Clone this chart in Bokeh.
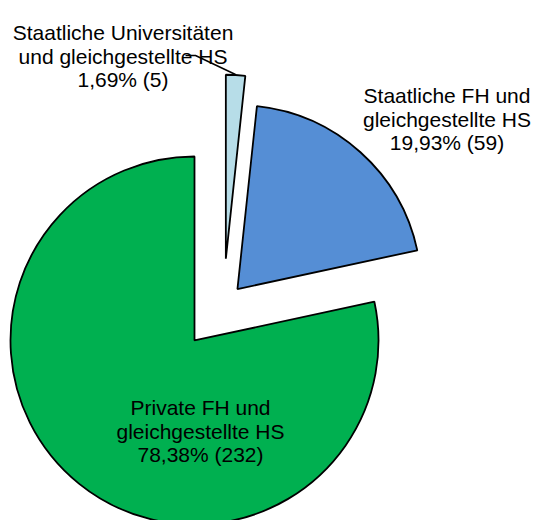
import math
from bokeh.plotting import figure
from bokeh.models import Range1d, ColumnDataSource
from bokeh.core.properties import value
from bokeh.embed import file_html
from bokeh.resources import INLINE

# ---- data ----
categories = ["Staatliche Universitäten\nund gleichgestellte HS",
              "Staatliche FH und\ngleichgestellte HS",
              "Private FH und\ngleichgestellte HS"]
counts = [5, 59, 232]
colors = ["#B7DDE8", "#558ED5", "#00B050"]

# ---- layout / style (reference pixel space, y measured from top) ----
W, H = 534, 520
REF_H = 520
center = (222.9, 304.2)
radius = 184
explode = [46, 21, 46]
label_anchor = [(122.5, 32), (446.5, 95), (200, 407)]
line_gap = 23.7
leader = [(185, 55), (195, 55), (235, 74)]
FONT = "Liberation Sans"
FSIZE = "21px"

p = figure(width=W, height=H, output_backend="svg", toolbar_location=None,
           x_range=Range1d(0, W), y_range=Range1d(REF_H - H, REF_H),
           min_border=0, outline_line_color=None)
p.axis.visible = False
p.grid.visible = False
p.background_fill_color = "white"
p.border_fill_color = "white"

total = sum(counts)
cx, cy = center[0], REF_H - center[1]
cum = 0
xs, ys, starts, ends = [], [], [], []
for v, d in zip(counts, explode):
    f0 = cum / total
    f1 = (cum + v) / total
    cum += v
    a_start = 90 - 360 * f1
    a_end = 90 - 360 * f0
    mid = math.radians((a_start + a_end) / 2)
    xs.append(cx + d * math.cos(mid))
    ys.append(cy + d * math.sin(mid))
    starts.append(math.radians(a_start))
    ends.append(math.radians(a_end))

src = ColumnDataSource(dict(x=xs, y=ys, start=starts, end=ends, color=colors))
p.wedge(x="x", y="y", radius=radius, start_angle="start", end_angle="end",
        fill_color="color", line_color="black", line_width=1.8, source=src)

# leader line for the smallest slice
p.line([pt[0] for pt in leader], [REF_H - pt[1] for pt in leader],
       line_color="black", line_width=1.5)

# labels
tx, ty, tt = [], [], []
for cat, v, (lx, ly) in zip(categories, counts, label_anchor):
    pct = f"{100 * v / total:.2f}".replace(".", ",")
    lines = cat.split("\n") + [f"{pct}% ({v})"]
    for k, line in enumerate(lines):
        tx.append(lx)
        ty.append(REF_H - (ly + k * line_gap))
        tt.append(line)
p.text(x=tx, y=ty, text=tt, text_align="center", text_baseline="alphabetic",
       text_font=value(FONT), text_font_size=FSIZE, text_color="black")

open("out.html", "w").write(file_html(p, INLINE))
